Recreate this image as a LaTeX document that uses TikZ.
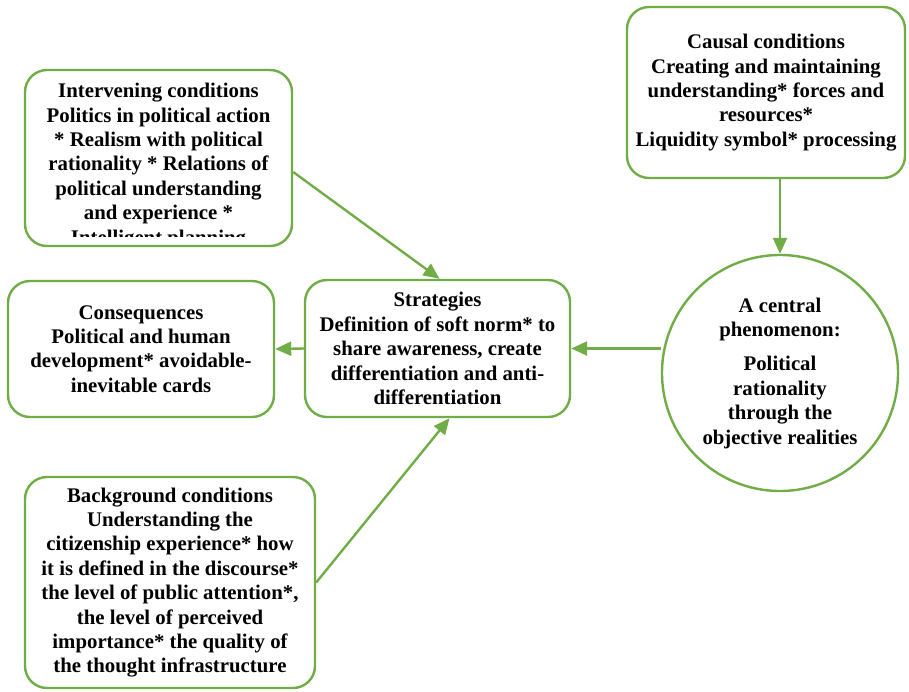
\documentclass[tikz,border=0pt]{standalone}
\usepackage{fontspec}
\setmainfont{Liberation Serif}
\usepackage{tikz}
\usetikzlibrary{positioning, arrows.meta, shapes.geometric}
\definecolor{boxgreen}{RGB}{112,173,71}

\begin{document}
\begin{tikzpicture}[
						x=1pt, y=-1pt,
						every node/.style={font=\fontsize{20.8}{24.4}\selectfont\bfseries, align=center, inner sep=0pt},
						box/.style={draw=boxgreen, line width=2.4pt, rounded corners=22pt},
						flow/.style={draw=boxgreen, line width=2.4pt, -{Triangle[length=16pt, width=14pt]}}
				]
    \useasboundingbox (0,0) rectangle (909,691);

    \node[box, minimum width=267pt, minimum height=176pt] (Intervening) at (158.5,158) {};
    \begin{scope}
        \clip (25,70) rectangle (292,236);
        \node (InterveningText) at (158.5,166) {Intervening conditions\\ Politics in political action\\ * Realism with political\\ rationality * Relations of\\ political understanding\\ and experience *\\ Intelligent planning};
    \end{scope}

    \node[box, minimum width=278pt, minimum height=171pt] (Causal) at (766,92.5) {Causal conditions\\ Creating and maintaining\\ understanding* forces and\\ resources*\\ Liquidity symbol* processing};

    \node[draw=boxgreen, line width=2.4pt, circle, minimum size=236pt] (Phenomenon) at (780,373) {A central\\ phenomenon:\\[10pt] Political\\ rationality\\ through the\\ objective realities};

    \node[box, minimum width=265pt, minimum height=137pt] (Strategies) at (437.5,348.5) {Strategies\\ Definition of soft norm* to\\ share awareness, create\\ differentiation and anti-\\ differentiation};

    \node[box, minimum width=266pt, minimum height=136pt] (Consequences) at (141,349) {Consequences\\ Political and human\\ development* avoidable-\\ inevitable cards};

    \node[box, minimum width=290pt, minimum height=211pt] (Background) at (170,582.5) {Background conditions\\ Understanding the\\ citizenship experience* how\\ it is defined in the discourse*\\ the level of public attention*,\\ the level of perceived\\ importance* the quality of\\ the thought infrastructure};

    % Arrows into strategies
    \draw[flow] (Causal.south -| Phenomenon.north) -- (Phenomenon.north);
    \draw[flow] (Phenomenon.west |- Strategies.east) -- (Strategies.east);
    \draw[flow] ([yshift=-14pt]Intervening.east) -- ([xshift=2pt]Strategies.north);
    \draw[flow] (Background.east) -- ([xshift=12pt]Strategies.south);
    \draw[flow] (Strategies.west) -- (Consequences.east);

\end{tikzpicture}
\end{document}
